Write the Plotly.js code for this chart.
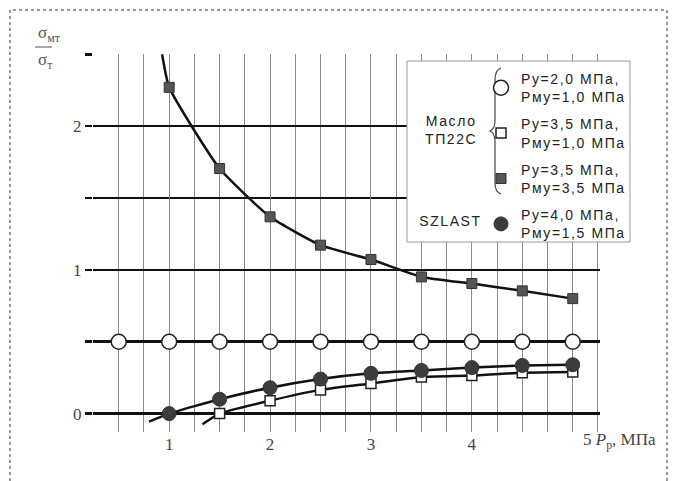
<!DOCTYPE html>
<html><head><meta charset="utf-8">
<script src="https://cdn.plot.ly/plotly-3.0.1.min.js"></script>
<style>
html,body{margin:0;padding:0;background:#fff}
.legendtext{letter-spacing:1.6px}
.annotation-text.spaced{letter-spacing:1.6px}
</style>
</head><body><div id="chart" style="width:673px;height:481px"></div>
<script>
// ---- data ----
const xOpenCircle = [0.5, 1, 1.5, 2, 2.5, 3, 3.5, 4, 4.5, 5];
const yOpenCircle = [0.5, 0.5, 0.5, 0.5, 0.5, 0.5, 0.5, 0.5, 0.5, 0.5];
const xOpenSquare = [1.5, 2, 2.5, 3, 3.5, 4, 4.5, 5];
const yOpenSquare = [0.0, 0.09, 0.165, 0.21, 0.255, 0.265, 0.285, 0.29];
const xFilledSquare = [1, 1.5, 2, 2.5, 3, 3.5, 4, 4.5, 5];
const yFilledSquare = [2.27, 1.705, 1.369, 1.172, 1.072, 0.951, 0.905, 0.854, 0.80];
const xFilledCircle = [1, 1.5, 2, 2.5, 3, 3.5, 4, 4.5, 5];
const yFilledCircle = [0.0, 0.1, 0.18, 0.24, 0.28, 0.30, 0.32, 0.335, 0.34];
// fitted curves (extended past the first points as drawn)
const curveOpenCircleX = [0.25, 5.27];
const curveOpenCircleY = [0.5, 0.5];
const curveOpenSquareX = [1.33].concat(xOpenSquare);
const curveOpenSquareY = [-0.074].concat(yOpenSquare);
const curveFilledSquareX = [0.93].concat(xFilledSquare);
const curveFilledSquareY = [2.5].concat(yFilledSquare);
const curveFilledCircleX = [0.8].concat(xFilledCircle);
const curveFilledCircleY = [-0.056].concat(yFilledCircle);
const xTickVals = [1, 2, 3, 4];
const xTickText = ['1', '2', '3', '4'];
const yTickVals = [0, 1, 2];
const yTickText = ['0', '1', '2'];
const legendNames = [
  'Ру=2,0 МПа,<br>Рму=1,0 МПа',
  'Ру=3,5 МПа,<br>Рму=1,0 МПа',
  'Ру=3,5 МПа,<br>Рму=3,5 МПа',
  'Ру=4,0 МПа,<br>Рму=1,5 МПа'
];

// ---- layout helpers (pixel -> paper) ----
const L = 93, R = 600, T = 54, B = 432;
const px = v => (v - L) / (R - L);
const py = v => (B - v) / (B - T);

const lineStyle = {color: '#111', width: 2.5, shape: 'spline', smoothing: 0.5};
const traces = [
  {x: curveOpenCircleX, y: curveOpenCircleY, mode: 'lines', line: {color: '#111', width: 2.5}, showlegend: false},
  {x: curveOpenSquareX, y: curveOpenSquareY, mode: 'lines', line: lineStyle, showlegend: false},
  {x: curveFilledSquareX, y: curveFilledSquareY, mode: 'lines', line: lineStyle, showlegend: false},
  {x: curveFilledCircleX, y: curveFilledCircleY, mode: 'lines', line: lineStyle, showlegend: false},
  {x: xOpenCircle, y: yOpenCircle, mode: 'markers', name: legendNames[0], legendgroup: 'a',
   marker: {symbol: 'circle', size: 15, color: '#fff', line: {color: '#222', width: 1.5}}},
  {x: xOpenSquare, y: yOpenSquare, mode: 'markers', name: legendNames[1], legendgroup: 'b',
   marker: {symbol: 'square', size: 10, color: '#fff', line: {color: '#222', width: 1.5}}},
  {x: xFilledSquare, y: yFilledSquare, mode: 'markers', name: legendNames[2], legendgroup: 'c',
   marker: {symbol: 'square', size: 10, color: '#555', line: {color: '#333', width: 1}}},
  {x: xFilledCircle, y: yFilledCircle, mode: 'markers', name: legendNames[3], legendgroup: 'd',
   marker: {symbol: 'circle', size: 14, color: '#3c3c3c', line: {color: '#333', width: 1}}}
];

const serif = 'Liberation Serif, Times New Roman, serif';
const sans = 'Liberation Sans, Arial, sans-serif';

const layout = {
  width: 673, height: 481,
  margin: {l: L, r: 673 - R, t: T, b: 481 - B},
  paper_bgcolor: '#fff', plot_bgcolor: '#fff',
  showlegend: true,
  legend: {x: px(481), y: py(63), xanchor: 'left', yanchor: 'top', bgcolor: 'rgba(0,0,0,0)',
           borderwidth: 0, traceorder: 'grouped', tracegroupgap: 6,
           font: {family: sans, size: 14, color: '#222'}},
  xaxis: {range: [0.245, 5.27], tickvals: xTickVals, ticktext: xTickText, ticks: '',
          showgrid: true, gridcolor: '#8a8a8a', gridwidth: 1, zeroline: false, showline: false,
          minor: {dtick: 0.25, tick0: 0.25, showgrid: true, gridcolor: '#8a8a8a', gridwidth: 1},
          tickfont: {family: serif, size: 17, color: '#444'}},
  yaxis: {range: [-0.128, 2.502], tickvals: yTickVals, ticktext: yTickText, ticks: 'outside',
          ticklen: 7, tickwidth: 2.5, tickcolor: '#111',
          showgrid: true, gridcolor: '#111', gridwidth: 2.5, zeroline: false, showline: false,
          minor: {dtick: 0.5, tick0: 0, ticks: 'outside', ticklen: 7, tickwidth: 2.5, tickcolor: '#111',
                  showgrid: true, gridcolor: '#111', gridwidth: 2.5},
          tickfont: {family: serif, size: 17, color: '#444'}},
  shapes: [
    {type: 'rect', xref: 'paper', yref: 'paper', x0: px(407), x1: px(630), y0: py(242), y1: py(61),
     fillcolor: '#fff', line: {color: '#999', width: 1}, layer: 'above'},
    {type: 'path', xref: 'paper', yref: 'paper', layer: 'above', line: {color: '#444', width: 1.2},
     path: `M ${px(501)} ${py(68)} Q ${px(495)} ${py(70)} ${px(495)} ${py(80)} L ${px(495)} ${py(120)} Q ${px(495)} ${py(129)} ${px(490)} ${py(131)} Q ${px(495)} ${py(133)} ${px(495)} ${py(142)} L ${px(495)} ${py(183)} Q ${px(495)} ${py(192)} ${px(501)} ${py(194)}`},
    {type: 'line', xref: 'paper', yref: 'paper', x0: px(35), x1: px(52), y0: py(47), y1: py(47),
     line: {color: '#555', width: 1}},
    {type: 'rect', xref: 'paper', yref: 'paper', x0: px(10), x1: px(667), y0: py(490), y1: py(10),
     line: {color: '#777', width: 1.5, dash: 'dot'}, fillcolor: 'rgba(0,0,0,0)'}
  ],
  annotations: [
    {xref: 'paper', yref: 'paper', x: px(451), y: py(130), xanchor: 'center', yanchor: 'middle',
     text: 'Масло<br>ТП22С', showarrow: false, align: 'center',
     font: {family: sans, size: 14, color: '#222'}},
    {xref: 'paper', yref: 'paper', x: px(450), y: py(221), xanchor: 'center', yanchor: 'middle',
     text: 'SZLAST', showarrow: false, font: {family: sans, size: 14, color: '#222'}},
    {xref: 'paper', yref: 'paper', x: px(658), y: py(441), xanchor: 'right', yanchor: 'middle',
     text: '5 <i>P</i><sub>р</sub>, МПа', showarrow: false,
     font: {family: serif, size: 17, color: '#444'}},
    {xref: 'paper', yref: 'paper', x: px(36), y: py(34), xanchor: 'left', yanchor: 'middle',
     text: 'σ<sub>мт</sub>', showarrow: false, font: {family: serif, size: 17, color: '#555'}},
    {xref: 'paper', yref: 'paper', x: px(36), y: py(61), xanchor: 'left', yanchor: 'middle',
     text: 'σ<sub>т</sub>', showarrow: false, font: {family: serif, size: 17, color: '#555'}}
  ]
};

Plotly.newPlot('chart', traces, layout, {staticPlot: true, displayModeBar: false}).then(() => {
  document.querySelectorAll('.annotation-text').forEach((el, i) => {
    if (i < 2) el.classList.add('spaced');
  });
});
</script>
</body></html>
